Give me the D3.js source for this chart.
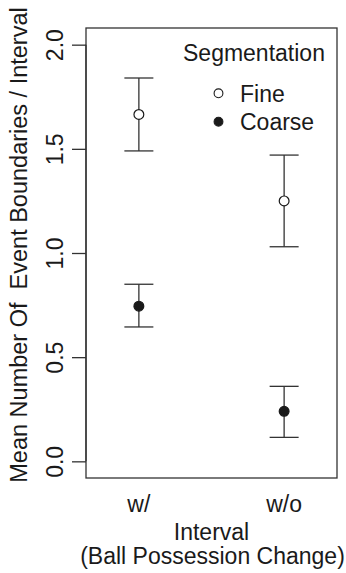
<!DOCTYPE html>
<html>
<head>
<meta charset="utf-8">
<script src="https://cdn.jsdelivr.net/npm/d3@7"></script>
<style>
  body { margin: 0; background: #fff; }
  text { font-family: "Liberation Sans", Arial, sans-serif; fill: #1a1a1a; }
</style>
</head>
<body>
<svg id="chart" width="346" height="573"></svg>
<script>
// values
var intervals = ["w/", "w/o"];
var fineMean = [1.665, 1.25];
var fineLower = [1.49, 1.03];
var fineUpper = [1.84, 1.47];
var coarseMean = [0.745, 0.24];
var coarseLower = [0.645, 0.115];
var coarseUpper = [0.85, 0.36];
var yTicks = [0, 0.5, 1, 1.5, 2];
var legendLabels = ["Fine", "Coarse"];

var svg = d3.select("svg#chart");
var fontSize = 23;
var ink = "#1a1a1a";

var plotLeft = 86, plotRight = 337, plotTop = 28, plotBottom = 478;

// R style 4% padding around xlim c(0.7, 2.3) and ylim c(0, 2)
var x = d3.scaleLinear().domain([0.636, 2.364]).range([plotLeft, plotRight]);
var y = d3.scaleLinear().domain([-0.08, 2.08]).range([plotBottom, plotTop]);

var series = [
    { name: "Fine", mean: fineMean, lo: fineLower, hi: fineUpper, fill: "#fff" },
    { name: "Coarse", mean: coarseMean, lo: coarseLower, hi: coarseUpper, fill: ink }
];

// box
svg.append("rect")
    .attr("x", plotLeft)
    .attr("y", plotTop)
    .attr("width", plotRight - plotLeft)
    .attr("height", plotBottom - plotTop)
    .attr("fill", "none")
    .attr("stroke", "#333")
    .attr("stroke-width", 1.3);

// y axis, labels rotated like R's las = 0
var yAxis = d3.axisLeft(y)
    .tickValues(yTicks)
    .tickSize(14)
    .tickPadding(8)
    .tickFormat(d3.format(".1f"));

var ya = svg.append("g")
    .attr("transform", "translate(" + plotLeft + ",0)")
    .call(yAxis);
ya.select(".domain")
    .attr("d", "M0," + y(0) + "V" + y(2))
    .attr("stroke", "#333")
    .attr("stroke-width", 1.3);
ya.selectAll(".tick line").attr("stroke", "#333").attr("stroke-width", 1.3);
ya.selectAll(".tick text")
    .attr("x", null)
    .attr("dy", null)
    .attr("text-anchor", "middle")
    .attr("transform", "translate(-23,0) rotate(-90)")
    .style("font-size", fontSize + "px")
    .attr("fill", ink);

// x category labels
svg.selectAll("text.xlab")
    .data(intervals)
    .enter()
    .append("text")
    .attr("class", "xlab")
    .attr("x", (d, i) => x(i + 1))
    .attr("y", 512)
    .attr("text-anchor", "middle")
    .style("font-size", fontSize + "px")
    .text(d => d);

// error bars and points
var capHalf = 14.5;
series.forEach(function(s) {
    var g = svg.append("g").attr("class", "series");
    var idx = d3.range(s.mean.length);

    g.selectAll("line.bar")
        .data(idx)
        .enter()
        .append("line")
        .attr("class", "bar")
        .attr("x1", i => x(i + 1))
        .attr("x2", i => x(i + 1))
        .attr("y1", i => y(s.lo[i]))
        .attr("y2", i => y(s.hi[i]))
        .attr("stroke", "#333")
        .attr("stroke-width", 1.3);

    ["lo", "hi"].forEach(function(k) {
        g.selectAll("line.cap-" + k)
            .data(idx)
            .enter()
            .append("line")
            .attr("class", "cap-" + k)
            .attr("x1", i => x(i + 1) - capHalf)
            .attr("x2", i => x(i + 1) + capHalf)
            .attr("y1", i => y(s[k][i]))
            .attr("y2", i => y(s[k][i]))
            .attr("stroke", "#333")
            .attr("stroke-width", 1.3);
    });

    g.selectAll("circle")
        .data(idx)
        .enter()
        .append("circle")
        .attr("cx", i => x(i + 1))
        .attr("cy", i => y(s.mean[i]))
        .attr("r", 4.9)
        .attr("fill", s.fill)
        .attr("stroke", ink)
        .attr("stroke-width", 1.2);
});

// legend
var legend = svg.append("g").attr("class", "legend");
legend.append("text")
    .attr("x", 183)
    .attr("y", 61)
    .style("font-size", fontSize + "px")
    .text("Segmentation");

var items = legend.selectAll("g.item")
    .data(series)
    .enter()
    .append("g")
    .attr("class", "item")
    .attr("transform", (d, i) => "translate(0," + (93.3 + i * 28.4) + ")");
items.append("circle")
    .attr("cx", 218.5)
    .attr("cy", 0)
    .attr("r", 4.4)
    .attr("fill", d => d.fill)
    .attr("stroke", ink)
    .attr("stroke-width", 1.1);
items.append("text")
    .attr("x", 240)
    .attr("y", 8.3)
    .style("font-size", fontSize + "px")
    .text((d, i) => legendLabels[i]);

// axis titles
svg.append("text")
    .attr("x", (plotLeft + plotRight) / 2)
    .attr("y", 540)
    .attr("text-anchor", "middle")
    .style("font-size", fontSize + "px")
    .text("Interval");
svg.append("text")
    .attr("x", (plotLeft + plotRight) / 2 + 1)
    .attr("y", 564)
    .attr("text-anchor", "middle")
    .style("font-size", fontSize + "px")
    .text("(Ball Possession Change)");
svg.append("text")
    .attr("transform", "translate(27,245) rotate(-90)")
    .attr("text-anchor", "middle")
    .style("font-size", "23.5px")
    .style("white-space", "pre")
    .text("Mean Number Of  Event Boundaries / Interval");
</script>
</body>
</html>
